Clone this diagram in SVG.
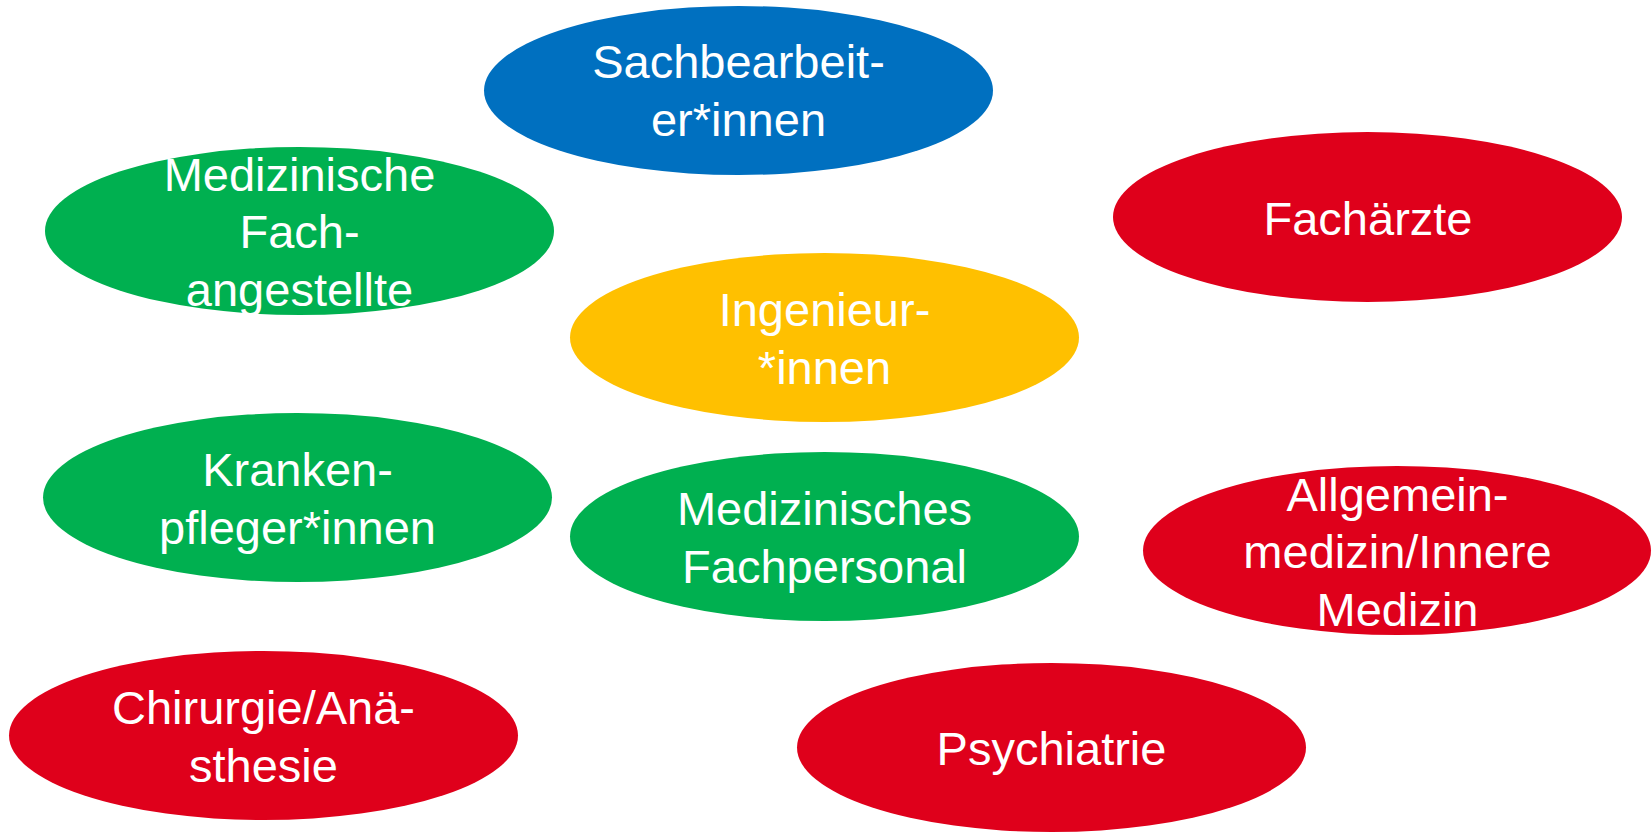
<svg xmlns="http://www.w3.org/2000/svg" width="1652" height="833" viewBox="0 0 1652 833">
<style>
.t{font-family:"Liberation Sans",Arial,sans-serif;font-size:47px;fill:#ffffff;text-anchor:middle}
.blue{fill:#0070C0}.green{fill:#00B050}.red{fill:#DF001B}.yellow{fill:#FFC000}
</style>
<rect width="1652" height="833" fill="#ffffff"/>
<g id="connectors"/>
<g id="sachbearbeiter">
<ellipse class="blue" cx="738.5" cy="90.5" rx="254.5" ry="84.5"/>
<text class="t" x="738.5" y="78">Sachbearbeit-</text>
<text class="t" x="738.5" y="136">er*innen</text>
</g>
<g id="med-fachangestellte">
<ellipse class="green" cx="299.5" cy="231" rx="254.5" ry="84"/>
<text class="t" x="299.5" y="191">Medizinische</text>
<text class="t" x="299.5" y="248">Fach-</text>
<text class="t" x="299.5" y="306">angestellte</text>
</g>
<g id="fachaerzte">
<ellipse class="red" cx="1367.5" cy="217" rx="254.5" ry="85"/>
<text class="t" x="1368" y="235">Fachärzte</text>
</g>
<g id="ingenieure">
<ellipse class="yellow" cx="824.5" cy="337.5" rx="254.5" ry="84.5"/>
<text class="t" x="824.5" y="326">Ingenieur-</text>
<text class="t" x="824.5" y="384">*innen</text>
</g>
<g id="krankenpfleger">
<ellipse class="green" cx="297.5" cy="497.5" rx="254.5" ry="84.5"/>
<text class="t" x="297.5" y="486">Kranken-</text>
<text class="t" x="297.5" y="544">pfleger*innen</text>
</g>
<g id="med-fachpersonal">
<ellipse class="green" cx="824.5" cy="536.5" rx="254.5" ry="84.5"/>
<text class="t" x="824.5" y="525">Medizinisches</text>
<text class="t" x="824.5" y="583">Fachpersonal</text>
</g>
<g id="allgemeinmedizin">
<ellipse class="red" cx="1397" cy="550.5" rx="254" ry="84.5"/>
<text class="t" x="1397.5" y="511">Allgemein-</text>
<text class="t" x="1397.5" y="568">medizin/Innere</text>
<text class="t" x="1397.5" y="626">Medizin</text>
</g>
<g id="chirurgie">
<ellipse class="red" cx="263.5" cy="735.5" rx="254.5" ry="84.5"/>
<text class="t" x="263.5" y="724">Chirurgie/Anä-</text>
<text class="t" x="263.5" y="782">sthesie</text>
</g>
<g id="psychiatrie">
<ellipse class="red" cx="1051.5" cy="747.5" rx="254.5" ry="84.5"/>
<text class="t" x="1051.5" y="765">Psychiatrie</text>
</g>
</svg>
